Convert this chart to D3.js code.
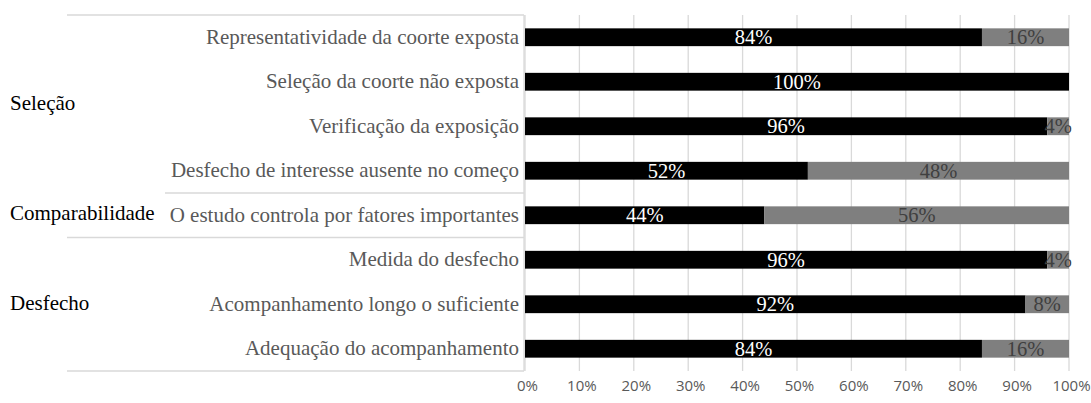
<!DOCTYPE html>
<html>
<head>
<meta charset="utf-8">
<script src="https://cdn.jsdelivr.net/npm/d3@7"></script>
<style>
  html, body { margin: 0; padding: 0; background: #fff; }
  svg { display: block; }
</style>
</head>
<body>
<svg id="chart" width="1091" height="403"></svg>
<script>
// Criteria (top to bottom) and the share of studies in each class
const criteria = [
  "Representatividade da coorte exposta",
  "Seleção da coorte não exposta",
  "Verificação da exposição",
  "Desfecho de interesse ausente no começo",
  "O estudo controla por fatores importantes",
  "Medida do desfecho",
  "Acompanhamento longo o suficiente",
  "Adequação do acompanhamento"
];
const metValues = [84, 100, 96, 52, 44, 96, 92, 84];
const notMetValues = [16, 0, 4, 48, 56, 4, 8, 16];

// Domain groups: label, first and last criterion index
const groupNames = ["Seleção", "Comparabilidade", "Desfecho"];
const groupStart = [0, 4, 5];
const groupEnd = [3, 4, 7];

const tickValues = [0, 10, 20, 30, 40, 50, 60, 70, 80, 90, 100];

const svg = d3.select("#chart");
const plotLeft = 525, plotRight = 1069, plotTop = 15, plotBottom = 371;

const x = d3.scaleLinear().domain([0, 100]).range([plotLeft, plotRight]);
const y = d3.scaleBand().domain(criteria).range([plotTop, plotBottom]).paddingInner(0.6).paddingOuter(0.3);
const step = y.step();
const bandTop = i => plotTop + i * step;

const gridColor = "#d9d9d9";

// vertical gridlines
svg.append("g").selectAll("line").data(tickValues).join("line")
  .attr("x1", d => x(d)).attr("x2", d => x(d))
  .attr("y1", plotTop).attr("y2", plotBottom)
  .attr("stroke", gridColor).attr("stroke-width", 1.3);

// category axis line
svg.append("line").attr("x1", plotLeft - 1).attr("x2", plotLeft - 1)
  .attr("y1", plotTop).attr("y2", plotBottom).attr("stroke", gridColor).attr("stroke-width", 1.3);

// group separators
const seps = [
  { y: plotTop, x0: 67 },
  { y: bandTop(4), x0: 165 },
  { y: bandTop(5), x0: 67 },
  { y: plotBottom, x0: 67 }
];
svg.append("g").selectAll("line").data(seps).join("line")
  .attr("x1", d => d.x0).attr("x2", plotLeft - 1)
  .attr("y1", d => d.y).attr("y2", d => d.y)
  .attr("stroke", gridColor).attr("stroke-width", 1.5);

// stacked bars
const rows = criteria.map((c, i) => ({ c, met: metValues[i], notMet: notMetValues[i] }));
const barG = svg.append("g");
barG.selectAll("rect.met").data(rows).join("rect").attr("class", "met")
  .attr("x", x(0)).attr("y", d => y(d.c))
  .attr("width", d => x(d.met) - x(0)).attr("height", y.bandwidth())
  .attr("fill", "#000");
barG.selectAll("rect.notmet").data(rows.filter(d => d.notMet > 0)).join("rect").attr("class", "notmet")
  .attr("x", d => x(d.met)).attr("y", d => y(d.c))
  .attr("width", d => x(d.met + d.notMet) - x(d.met)).attr("height", y.bandwidth())
  .attr("fill", "#7f7f7f");

const serif = "'Liberation Serif', 'Times New Roman', serif";

// value labels
barG.selectAll("text.metLbl").data(rows).join("text").attr("class", "metLbl")
  .attr("x", d => x(d.met / 2)).attr("y", d => y(d.c) + y.bandwidth() / 2 + 7)
  .attr("text-anchor", "middle").attr("font-family", serif).attr("font-size", 20.5)
  .attr("fill", "#fff").text(d => d.met + "%");
barG.selectAll("text.notLbl").data(rows.filter(d => d.notMet > 0)).join("text").attr("class", "notLbl")
  .attr("x", d => x(d.met + d.notMet / 2)).attr("y", d => y(d.c) + y.bandwidth() / 2 + 7)
  .attr("text-anchor", "middle").attr("font-family", serif).attr("font-size", 20.5)
  .attr("fill", "#404040").text(d => d.notMet + "%");

// category labels
svg.append("g").selectAll("text").data(criteria).join("text")
  .attr("x", plotLeft - 6).attr("y", d => y(d) + y.bandwidth() / 2 + 6.5)
  .attr("text-anchor", "end").attr("font-family", serif).attr("font-size", 21)
  .attr("fill", "#595959").text(d => d);

// group labels
svg.append("g").selectAll("text").data(groupNames).join("text")
  .attr("x", 10)
  .attr("y", (d, i) => (bandTop(groupStart[i]) + bandTop(groupEnd[i] + 1)) / 2 + 6.5 + (i === 1 ? -2 : -1))
  .attr("font-family", serif).attr("font-size", 21)
  .attr("fill", "#000").text(d => d);

// bottom axis
const xAxis = d3.axisBottom(x).tickValues(tickValues).tickFormat(d => d + "%").tickSize(0).tickPadding(0);
const ax = svg.append("g").attr("transform", `translate(2, ${plotBottom + 9})`).call(xAxis);
ax.select(".domain").remove();
ax.selectAll("text").attr("font-family", "'Open Sans', 'Noto Sans', sans-serif")
  .attr("font-size", 15).attr("fill", "#595959").attr("dy", "0.71em");
</script>
</body>
</html>
